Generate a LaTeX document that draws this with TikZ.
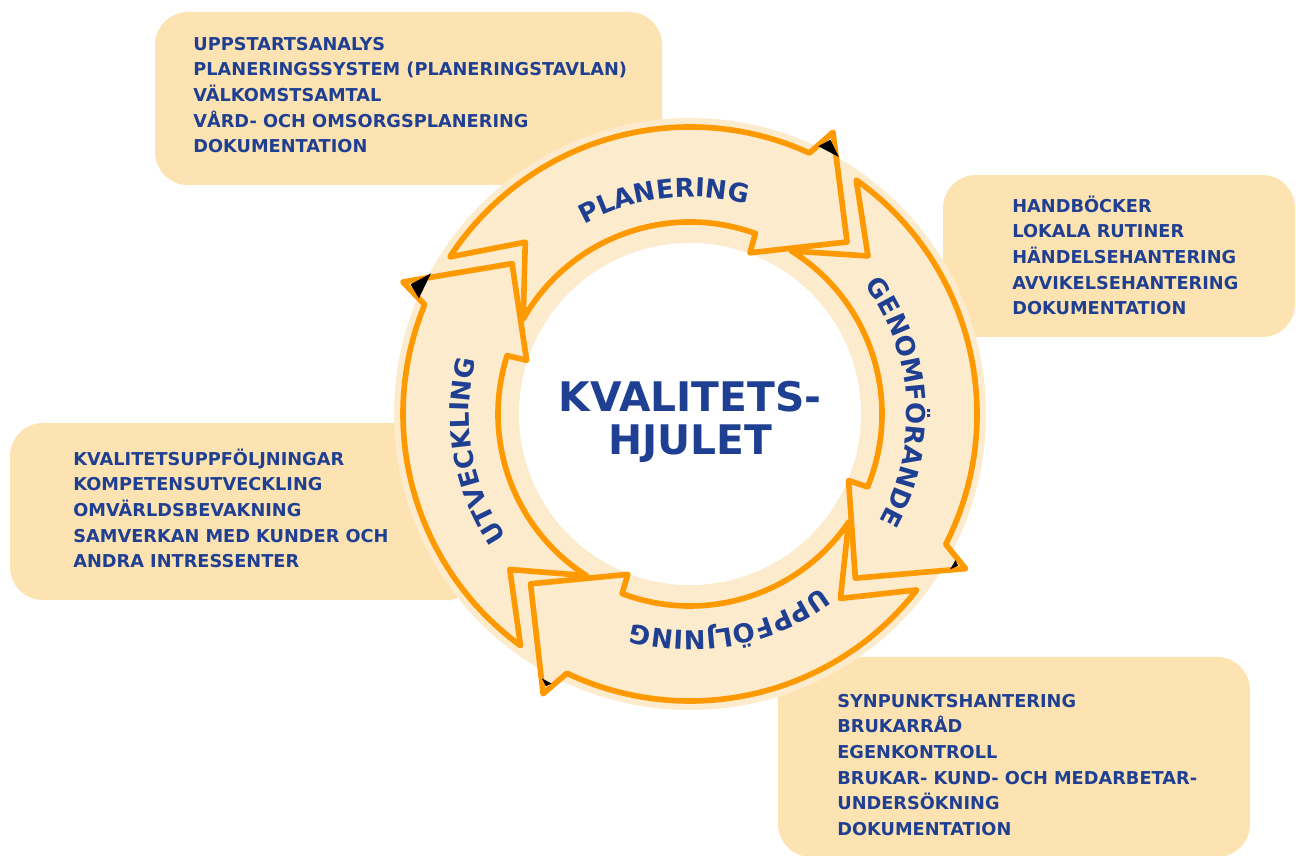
\documentclass[tikz,border=0pt]{standalone}
\usepackage{fontspec}
\setmainfont{DejaVu Sans}
\usetikzlibrary{decorations.text}
\definecolor{boxfill}{RGB}{253,226,178}
\definecolor{ringfill}{RGB}{253,235,205}
\definecolor{arroworange}{RGB}{255,153,0}
\definecolor{textblue}{RGB}{31,64,146}
\newcommand{\listfont}{\fontsize{10.1}{14.6}\selectfont\bfseries}
\newcommand{\ringfont}{\fontsize{14.8}{16}\selectfont\bfseries}

\begin{document}
\begin{tikzpicture}[x=0.02cm, y=0.02cm,
  box/.style={fill=boxfill, rounded corners=0.66cm},
  items/.style={anchor=north west, inner sep=0pt, align=left, text=textblue, font=\listfont},
  band/.style={fill=ringfill, draw=arroworange, line width=3.2pt, line join=round},
  ringtext/.style={decorate, decoration={text along path, text align=center, text color=textblue}},
  hub/.style={anchor=base, inner sep=0pt, text=textblue, font=\fontsize{23.2}{24.4}\selectfont\bfseries}]
\useasboundingbox (0,0) rectangle (1296,856);

\fill[box] (155,671) rectangle (662,844);
\fill[box] (943,519) rectangle (1295,681);
\fill[box] (10,256) rectangle (480,433);
\fill[box] (778,-1) rectangle (1250,199);

\node[items] (plan) at (193,823.6) {\rule{0pt}{10pt}UPPSTARTSANALYS\\PLANERINGSSYSTEM (PLANERINGSTAVLAN)\\VÄLKOMSTSAMTAL\\VÅRD- OCH OMSORGSPLANERING\\DOKUMENTATION};
\node[items] (genom) at (1012,661.6) {\rule{0pt}{10pt}HANDBÖCKER\\LOKALA RUTINER\\HÄNDELSEHANTERING\\AVVIKELSEHANTERING\\DOKUMENTATION};
\node[items] (utv) at (73,408.6) {\rule{0pt}{10pt}KVALITETSUPPFÖLJNINGAR\\KOMPETENSUTVECKLING\\OMVÄRLDSBEVAKNING\\SAMVERKAN MED KUNDER OCH\\ANDRA INTRESSENTER};
\node[items] (uppf) at (837,166.6) {\rule{0pt}{10pt}SYNPUNKTSHANTERING\\BRUKARRÅD\\EGENKONTROLL\\BRUKAR- KUND- OCH MEDARBETAR-\\UNDERSÖKNING\\DOKUMENTATION};

\begin{scope}[shift={(690,442)}]
\fill[ringfill] (0,0) circle[radius=296];
\fill[white] (0,0) circle[radius=171];
\foreach \pa/\ta/\s in {139.8/47.6/1, 47.6/-44.8/0.45, -44.8/-133.2/0.45, -133.2/-220.2/1.2}{
  \filldraw[band] (\pa+7:287) arc[start angle=\pa+7, end angle=\ta+17.8, radius=287]
    -- (\ta+15.5:316) -- (\ta:233) -- (\ta+22:172) -- (\ta+22.5:192)
    arc[start angle=\ta+22.5, end angle=\pa+10.5, radius=192] -- (\pa-6:238) -- cycle;
  \fill (\ta+15.3:308) -- (\ta+15.3+1.5*\s:308-11*\s) -- (\ta+15.3-3*\s:308-11*\s) -- cycle;
}
\path[ringtext, decoration={text={|\ringfont|PLANERING}}] (140:217) arc[start angle=140, end angle=54, radius=217];
\path[ringtext, decoration={text={|\ringfont|GENOMFÖRANDE}}] (50:217) arc[start angle=50, end angle=-43, radius=217];
\path[ringtext, decoration={text={|\ringfont|UPPFÖLJNING}}] (-36:217) arc[start angle=-36, end angle=-122.4, radius=217];
\path[ringtext, decoration={text={|\ringfont|UTVECKLING}}] (233:221) arc[start angle=233, end angle=146.6, radius=221];
\node[hub] (kv1) at (0,2) {KVALITETS-};
\node[hub] (kv2) at (0,-41) {HJULET};
\end{scope}
\end{tikzpicture}
\end{document}
